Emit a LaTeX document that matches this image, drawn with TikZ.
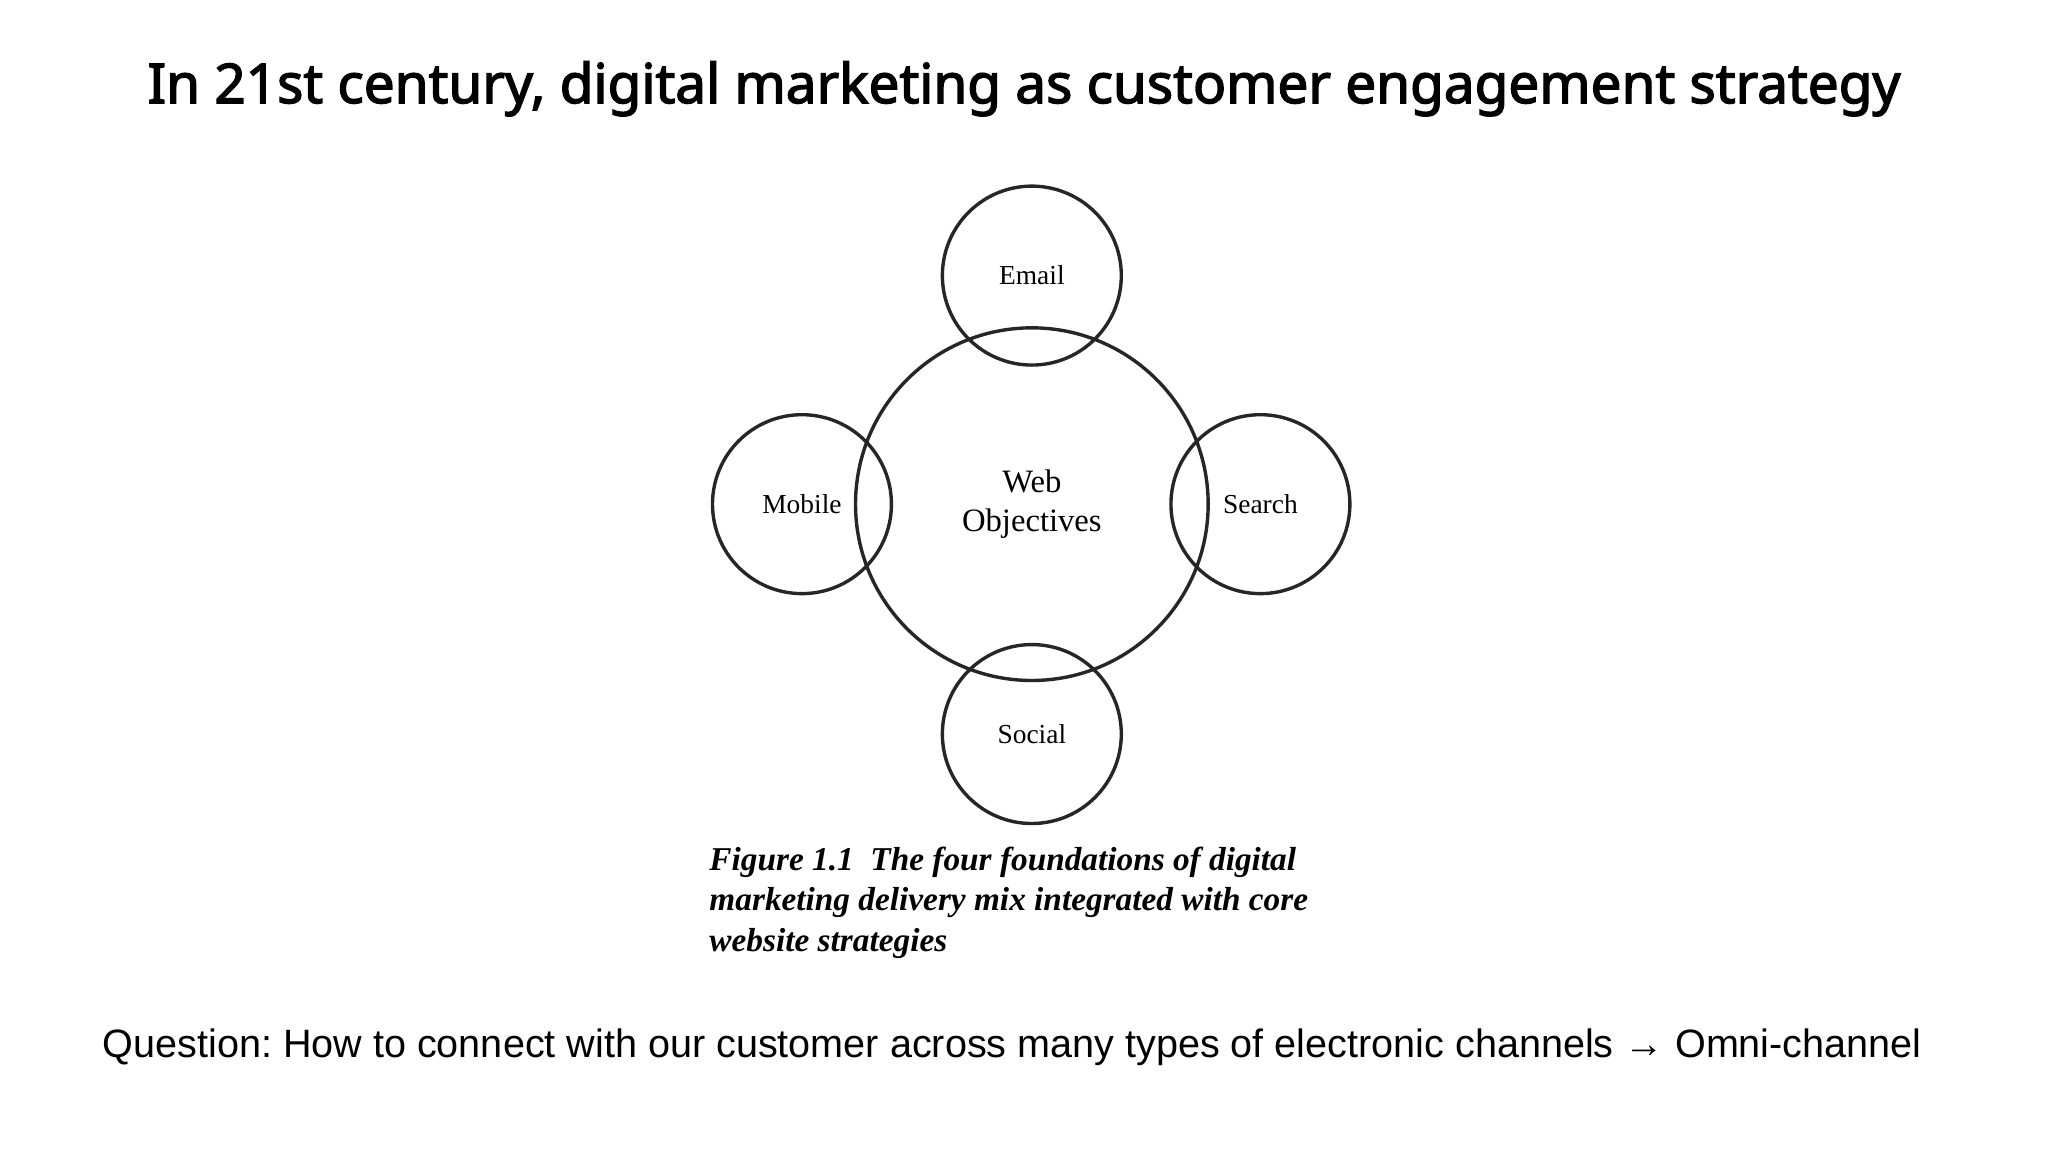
\documentclass[tikz,border=0pt]{standalone}
\usepackage{fontspec}
\setmainfont{Liberation Serif}
\newfontfamily\titlefont[FakeBold=2.5]{Noto Sans}
\newfontfamily\qfont{Liberation Sans}
\frenchspacing
\begin{document}
\begin{tikzpicture}[x=1pt,y=-1pt,
  ring/.style={circle,draw=black!85,line width=2.6pt,inner sep=0pt},
  lbl/.style={font=\fontsize{21}{24}\selectfont}]
\useasboundingbox (0,0) rectangle (1568,882);
\node[font=\titlefont\fontsize{42}{48}\selectfont] (title) at (784,68) {In 21st century, digital marketing as customer engagement strategy};
\node[ring,minimum size=270pt] (web) at (790,386) {};
\node[font=\fontsize{25}{30}\selectfont,align=center] (webt) at (790,386) {Web\\Objectives};
\node[ring,minimum size=137pt,lbl] (email) at (790,211) {Email};
\node[ring,minimum size=137pt,lbl] (social) at (790,562) {Social};
\node[ring,minimum size=137pt,lbl] (mobile) at (614,386) {Mobile};
\node[ring,minimum size=137pt,lbl] (search) at (965,386) {Search};
\node[anchor=north west,align=left,font=\bfseries\itshape\fontsize{25.5}{31}\selectfont,inner sep=0pt] (cap) at (543,648) {Figure 1.1\ \ The four foundations of digital\\marketing delivery mix integrated with core\\website strategies};
\node[font=\qfont\fontsize{30.3}{34}\selectfont] (q) at (775,802) {Question: How to connect with our customer across many types of electronic channels → Omni-channel};
\end{tikzpicture}
\end{document}
